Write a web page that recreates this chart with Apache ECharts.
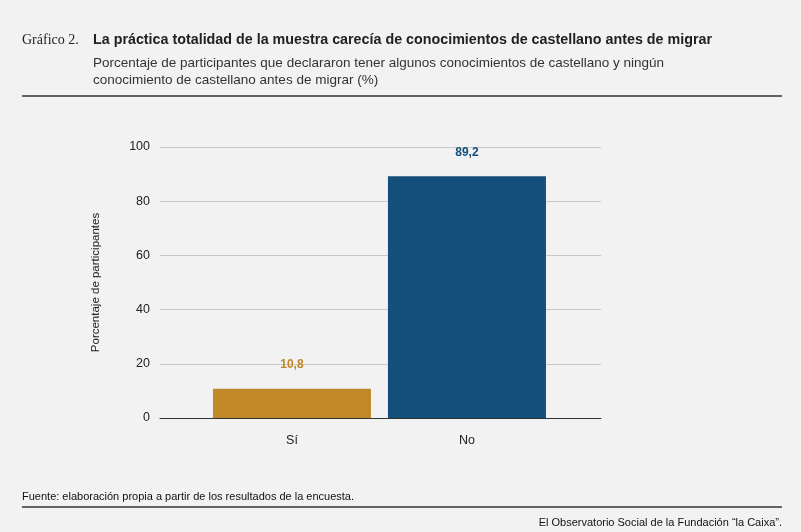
<!DOCTYPE html>
<html>
<head>
<meta charset="utf-8">
<script src="https://cdn.jsdelivr.net/npm/echarts@6/dist/echarts.min.js"></script>
<style>
html,body{margin:0;padding:0;background:#f2f2f2;}
#chart{width:801px;height:532px;}
</style>
</head>
<body>
<div id="chart"></div>
<script>
// datos
var categories = ['Sí', 'No'];
var values = [10.8, 89.2];
var colors = ['#c08828', '#134f7a'];
var yTicks = [0, 20, 40, 60, 80, 100];

var myChart = echarts.init(document.getElementById('chart'));
var font = 'Helvetica, Arial, "Liberation Sans", sans-serif';

var option = {
    backgroundColor: '#f2f2f2',
    textStyle: { fontFamily: font },
    title: [
        { text: 'Gráfico 2.', left: 17, top: 28, textStyle: { fontFamily: 'Liberation Serif, serif', fontWeight: 'normal', fontSize: 14, color: '#222' } },
        { text: 'La práctica totalidad de la muestra carecía de conocimientos de castellano antes de migrar', left: 88, top: 28, textStyle: { fontFamily: font, fontWeight: 'bold', fontSize: 14.3, color: '#222' } },
        { text: 'Porcentaje de participantes que declararon tener algunos conocimientos de castellano y ningún\nconocimiento de castellano antes de migrar (%)', left: 88, top: 50, textStyle: { fontFamily: font, fontWeight: 'normal', fontSize: 13.5, lineHeight: 17, color: '#333' } },
        { text: 'Fuente: elaboración propia a partir de los resultados de la encuesta.', left: 17, top: 486, textStyle: { fontFamily: font, fontWeight: 'normal', fontSize: 11, color: '#111' } },
        { text: 'El Observatorio Social de la Fundación “la Caixa”.', right: 14, top: 512, textStyle: { fontFamily: font, fontWeight: 'normal', fontSize: 11, color: '#111' } }
    ],
    graphic: [
        { type: 'line', shape: { x1: 22, y1: 96, x2: 782, y2: 96 }, style: { stroke: '#333', lineWidth: 1.5 } },
        { type: 'line', shape: { x1: 22, y1: 507, x2: 782, y2: 507 }, style: { stroke: '#333', lineWidth: 1.5 } }
    ],
    grid: { left: 160, right: 200, top: 147, bottom: 114 },
    xAxis: {
        type: 'value',
        min: -0.754,
        max: 1.766,
        splitLine: { show: false },
        axisLine: { show: true, onZero: false, lineStyle: { color: '#333', width: 1 } },
        axisTick: { show: false },
        axisLabel: {
            customValues: [0, 1],
            formatter: function (v) { return categories[Math.round(v)]; },
            color: '#222', fontSize: 12.5, margin: 16
        }
    },
    yAxis: {
        type: 'value',
        min: 0, max: 100, interval: 20,
        name: 'Porcentaje de participantes',
        nameLocation: 'middle',
        nameGap: 58,
        nameTextStyle: { color: '#222', fontSize: 11.5 },
        axisLine: { show: false },
        axisTick: { show: false },
        axisLabel: { color: '#222', fontSize: 12.5, margin: 10 },
        splitLine: { lineStyle: { color: '#c8c8c8', width: 1 } }
    },
    series: [{
        type: 'bar',
        barWidth: 158,
        data: values.map(function (v, i) {
            return {
                value: [i, v],
                itemStyle: { color: colors[i] },
                label: { color: colors[i] }
            };
        }),
        label: {
            show: true,
            position: 'top',
            distance: 18,
            fontWeight: 'bold',
            fontSize: 12,
            formatter: function (p) { return String(p.value[1]).replace('.', ','); }
        }
    }]
};
myChart.setOption(option);
window.addEventListener('resize', function () { myChart.resize(); });
</script>
</body>
</html>
